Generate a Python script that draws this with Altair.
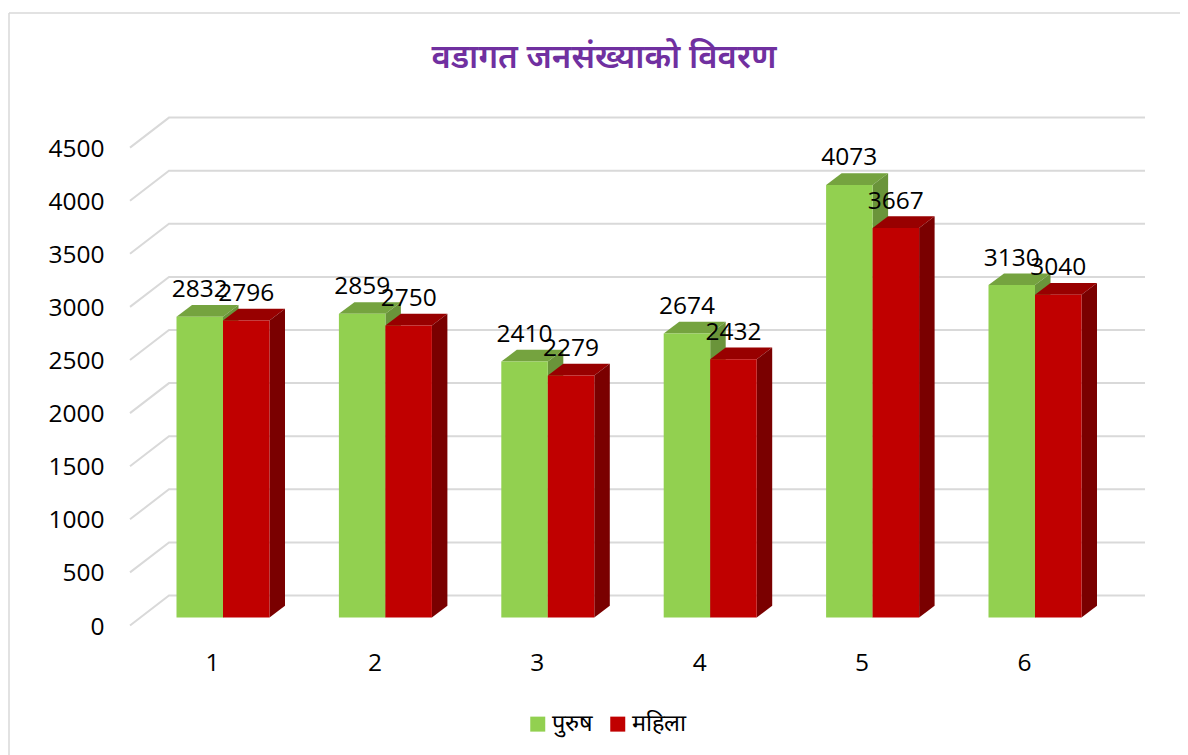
import altair as alt
import pandas as pd

wards = [1, 2, 3, 4, 5, 6]
male = [2832, 2859, 2410, 2674, 4073, 3130]
female = [2796, 2750, 2279, 2432, 3667, 3040]
series_names = ["पुरुष", "महिला"]
front_colors = ["#92D050", "#C00000"]
top_colors = ["#75A33F", "#980000"]
side_colors = ["#6A943A", "#7A0000"]
y_ticks = [0, 500, 1000, 1500, 2000, 2500, 3000, 3500, 4000, 4500]
title_text = "वडागत जनसंख्याको विवरण"

FONT = "Open Sans"
PX = 162.4          # pixels per ward
PY = 0.1062         # pixels per person
W, H = 1172, 747
x_dom = [1 + (8 - 212) / PX, 1 + (1180 - 212) / PX]
y_dom = [(617.5 - 755) / PY, (617.5 - 8) / PY]
BAR_SHIFT = 11 / PX
BAR_W = 46.5 / PX
DEP_X = 15.5 / PX
DEP_Y = 11.7 / PY

xs = alt.Scale(domain=x_dom, range=[0, W], nice=False, zero=False)
ys = alt.Scale(domain=y_dom, range=[H, 0], nice=False, zero=False)

front, side, top = [], [], []
for si, vals in enumerate([male, female]):
    for w, v in zip(wards, vals):
        l = w + BAR_SHIFT + (si - 1) * BAR_W
        r = l + BAR_W
        key = f"{si}-{w}"
        front.append(dict(series=series_names[si], si=si, x=l, x2=r, y=v, y2=0, mid=(l + r) / 2, label=str(v)))
        side += [dict(si=si, key=key, x=r, y=v, y2=0),
                 dict(si=si, key=key, x=r + DEP_X, y=v + DEP_Y, y2=DEP_Y)]
        top += [dict(si=si, key=key, x=l, y=v, y2=v),
                dict(si=si, key=key, x=l + DEP_X, y=v, y2=v + DEP_Y),
                dict(si=si, key=key, x=r, y=v, y2=v + DEP_Y),
                dict(si=si, key=key, x=r + DEP_X, y=v + DEP_Y, y2=v + DEP_Y)]
front, side, top = pd.DataFrame(front), pd.DataFrame(side), pd.DataFrame(top)

# gridlines: slanted floor edge then horizontal along the back wall
x_a = 1 + (130 - 212) / PX
x_b = 1 + (169 - 212) / PX
x_c = 1 + (1145 - 212) / PX
grid = []
for t in y_ticks:
    grid += [dict(t=t, x=x_a, y=t - 8 / PY, o=0),
             dict(t=t, x=x_b, y=t + 22 / PY, o=1),
             dict(t=t, x=x_c, y=t + 22 / PY, o=2)]
grid = pd.DataFrame(grid)

x_axis = alt.Axis(values=wards, format="d", domain=False, ticks=False, grid=False, title=None,
                  labelFont=FONT, labelFontSize=24.5, labelColor="#000000", labelPadding=0,
                  offset=-104, labelFlush=False)
y_axis = alt.Axis(values=y_ticks, format="d", domain=False, ticks=False, grid=False, title=None,
                  labelFont=FONT, labelFontSize=24.5, labelColor="#000000", labelPadding=0,
                  labelOffset=9.5, offset=-96, labelFlush=False)
X = alt.X("x:Q", scale=xs, axis=x_axis, title=None)
Y = alt.Y("y:Q", scale=ys, axis=y_axis, title=None)

frame_top = alt.Chart(pd.DataFrame({"a": [0]})).mark_rule(color="#D9D9D9", strokeWidth=1.5).encode(
    x=alt.value(1), x2=alt.value(W), y=alt.value(5))
frame_left = alt.Chart(pd.DataFrame({"a": [0]})).mark_rule(color="#D9D9D9", strokeWidth=1.5).encode(
    x=alt.value(1), y=alt.value(5), y2=alt.value(H))

grid_layer = alt.Chart(grid).mark_line(color="#D9D9D9", strokeWidth=2).encode(
    x=X, y=Y, detail="t:N", order="o:Q")

layers = [frame_top, frame_left, grid_layer]
color = alt.Color("series:N", scale=alt.Scale(domain=series_names, range=front_colors),
                  legend=alt.Legend(orient="none", legendX=518, legendY=704, direction="horizontal",
                                    title=None, symbolType="square", symbolSize=225, symbolStrokeWidth=0,
                                    labelFont=FONT, labelFontSize=23.5, labelColor="#000000",
                                    columnPadding=13, labelOffset=2))
for si in [0, 1]:
    layers.append(alt.Chart(top[top.si == si]).mark_area(color=top_colors[si]).encode(
        x=X, y=Y, y2="y2:Q", detail="key:N"))
    layers.append(alt.Chart(side[side.si == si]).mark_area(color=side_colors[si]).encode(
        x=X, y=Y, y2="y2:Q", detail="key:N"))
    layers.append(alt.Chart(front[front.si == si]).mark_rect().encode(
        x=X, x2="x2:Q", y=Y, y2="y2:Q", color=color))
labels = alt.Chart(front).mark_text(font=FONT, fontSize=24.5, color="#000000", dy=-26.5, baseline="middle").encode(
    x=alt.X("mid:Q", scale=xs, axis=x_axis, title=None), y=Y, text="label:N")
layers.append(labels)

chart = alt.layer(*layers).properties(
    width=W, height=H,
    padding=0,
    autosize=alt.AutoSizeParams(type="none"),
    title=alt.TitleParams(title_text, font="Noto Sans", fontSize=33, fontWeight=600, color="#7030A0",
                          orient="top", anchor="middle", dx=10, offset=-67),
).configure_view(stroke=None)

chart.save("out.html", embed_options={"renderer": "svg", "actions": False})
